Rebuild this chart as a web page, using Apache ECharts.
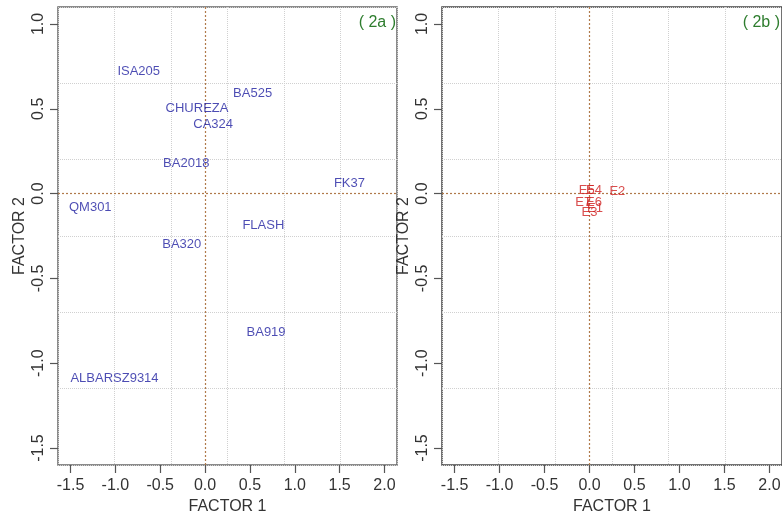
<!DOCTYPE html>
<html>
<head>
<meta charset="utf-8">
<script src="https://cdn.jsdelivr.net/npm/echarts@6/dist/echarts.min.js"></script>
<style>
  html, body { margin: 0; padding: 0; background: #fff; }
  #chart { width: 782px; height: 512px; }
</style>
</head>
<body>
<div id="chart"></div>
<script>
// genotypes (panel 2a)
var genoNames = ['ISA205', 'BA525', 'CHUREZA', 'CA324', 'BA2018', 'FK37', 'QM301', 'FLASH', 'BA320', 'BA919', 'ALBARSZ9314'];
var genoF1 = [-0.74, 0.53, -0.09, 0.09, -0.21, 1.61, -1.28, 0.65, -0.26, 0.68, -1.01];
var genoF2 = [0.72, 0.59, 0.50, 0.41, 0.18, 0.06, -0.08, -0.19, -0.30, -0.82, -1.09];

// environments (panel 2b)
var envNames = ['E5', 'E4', 'E2', 'E7', 'E6', 'E3', 'E1'];
var envF1 = [-0.03, 0.05, 0.31, -0.07, 0.05, 0.0, 0.06];
var envF2 = [0.02, 0.02, 0.01, -0.05, -0.05, -0.11, -0.09];

var xTicks = [-1.5, -1.0, -0.5, 0.0, 0.5, 1.0, 1.5, 2.0];
var yTicks = [-1.5, -1.0, -0.5, 0.0, 0.5, 1.0];

// plot limits like R: xlim/ylim plus 4%
var xMin = -1.64, xMax = 2.14, xGridStep = 0.63;
var yMin = -1.6, yMax = 1.1, yGridStep = 0.45;

var font = 'Liberation Sans, Arial, sans-serif';

function pts(xs, ys, names) {
  return names.map(function (n, i) { return [xs[i], ys[i], n]; });
}

function mainX(g) {
  return {
    type: 'value', gridIndex: g, min: xMin, max: xMax,
    name: 'FACTOR 1', nameLocation: 'middle', nameGap: 30,
    nameTextStyle: { fontFamily: font, fontSize: 16, color: '#333' },
    axisLine: { show: false, onZero: false },
    axisTick: { show: true, length: 8, customValues: xTicks, lineStyle: { color: '#555', width: 1.2 } },
    axisLabel: { customValues: xTicks, margin: 13, fontFamily: font, fontSize: 16, color: '#333',
      formatter: function (v) { return v.toFixed(1); } },
    splitLine: { show: false }
  };
}
function gridX(g) {
  return {
    type: 'value', gridIndex: g, min: xMin, max: xMax, interval: xGridStep,
    axisLine: { show: false, onZero: false }, axisTick: { show: false }, axisLabel: { show: false },
    splitLine: { show: true, lineStyle: { color: '#d0d0d0', type: 'dotted', width: 1 } }
  };
}
function mainY(g) {
  return {
    type: 'value', gridIndex: g, min: yMin, max: yMax,
    name: 'FACTOR 2', nameLocation: 'middle', nameGap: 30,
    nameTextStyle: { fontFamily: font, fontSize: 16, color: '#333' },
    axisLine: { show: false, onZero: false },
    axisTick: { show: true, length: 8, customValues: yTicks, lineStyle: { color: '#555', width: 1.2 } },
    axisLabel: { customValues: yTicks, margin: 11, rotate: 90, fontFamily: font, fontSize: 16, color: '#333',
      formatter: function (v) { return v.toFixed(1); } },
    splitLine: { show: false }
  };
}
function gridY(g) {
  return {
    type: 'value', gridIndex: g, min: yMin, max: yMax, interval: yGridStep,
    axisLine: { show: false, onZero: false }, axisTick: { show: false }, axisLabel: { show: false },
    splitLine: { show: true, lineStyle: { color: '#d0d0d0', type: 'dotted', width: 1 } }
  };
}
function labelSeries(xi, yi, data, color) {
  return {
    type: 'scatter', xAxisIndex: xi, yAxisIndex: yi, data: data,
    symbolSize: 1, itemStyle: { color: 'transparent' },
    label: { show: true, position: 'inside', fontFamily: font, fontSize: 13, color: color,
      formatter: function (p) { return p.data[2]; } },
    markLine: {
      silent: true, symbol: 'none', label: { show: false },
      lineStyle: { color: '#b07a4a', type: [2, 2], width: 1.2 },
      data: [{ xAxis: 0 }, { yAxis: 0 }]
    },
    z: 5
  };
}

var chart = echarts.init(document.getElementById('chart'));
chart.setOption({
  animation: false,
  title: [
    { text: '( 2a )', right: 386, top: 15, padding: 0,
      textStyle: { fontFamily: font, fontSize: 16, fontWeight: 'normal', color: '#2e7d2e' } },
    { text: '( 2b )', right: 2, top: 15, padding: 0,
      textStyle: { fontFamily: font, fontSize: 16, fontWeight: 'normal', color: '#2e7d2e' } }
  ],
  grid: [
    { left: 58, top: 7, width: 339, height: 458, outerBoundsMode: 'none', containLabel: false,
      show: true, borderColor: '#666', borderWidth: 1.5, backgroundColor: '#fff' },
    { left: 442, top: 7, width: 340, height: 458, outerBoundsMode: 'none', containLabel: false,
      show: true, borderColor: '#444', borderWidth: 1.5, backgroundColor: '#fff' }
  ],
  xAxis: [mainX(0), gridX(0), mainX(1), gridX(1)],
  yAxis: [mainY(0), gridY(0), mainY(1), gridY(1)],
  series: [
    labelSeries(0, 0, pts(genoF1, genoF2, genoNames), '#1f1fa0'),
    labelSeries(2, 2, pts(envF1, envF2, envNames), '#d02020')
  ]
});
</script>
</body>
</html>
